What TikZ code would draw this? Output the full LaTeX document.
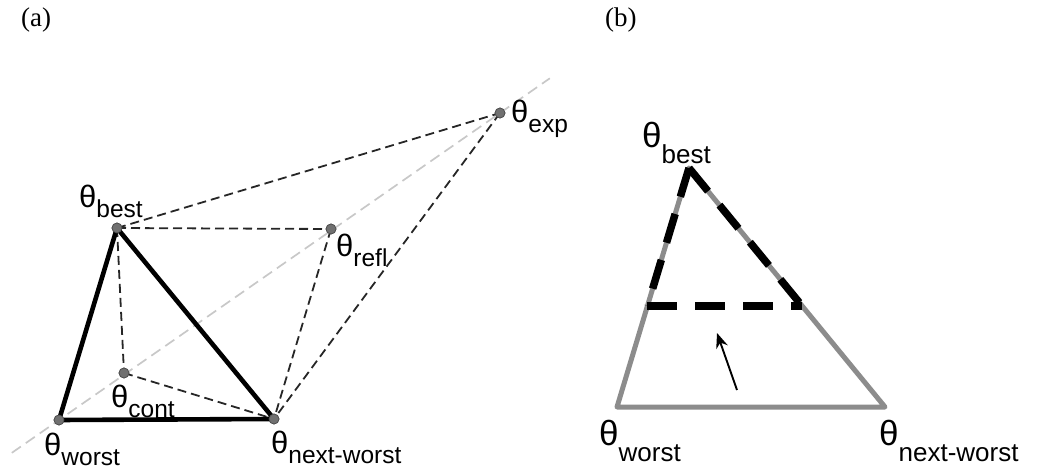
\documentclass[tikz,border=0pt]{standalone}
\usepackage{fontspec}
\setmainfont{Liberation Serif}
\newfontfamily\thetafont{Liberation Sans}
\usetikzlibrary{
  arrows.meta,
  calc,
  positioning
}
\definecolor{smDot}{HTML}{707070}
\definecolor{smGuide}{HTML}{C8C8C8}
\definecolor{smEdge}{HTML}{8C8C8C}
% theta with lowered subscript, panel (a) and panel (b) sizes
\newcommand{\thA}[1]{{\fontsize{31}{31}\selectfont θ}\raisebox{-10pt}{\fontsize{24.5}{24.5}\selectfont #1}}
\newcommand{\thB}[1]{{\fontsize{35}{35}\selectfont θ}\raisebox{-16pt}{\fontsize{26}{26}\selectfont #1}}
\tikzset{
  vtx/.style={circle, inner sep=0pt, minimum size=10pt, fill=smDot, draw=smDot!70!black, line width=0.7pt},
  thlab/.style={anchor=base west, inner sep=0pt, font=\thetafont},
  panel/.style={anchor=north west, inner sep=0pt, font=\fontsize{27}{27}\selectfont},
  simplex/.style={line width=4.6pt, black, line join=round},
  trial/.style={line width=1.8pt, black!85, dash pattern=on 9pt off 5pt},
  guide/.style={line width=1.7pt, smGuide, dash pattern=on 11pt off 6pt},
  oldedge/.style={line width=5pt, smEdge, line join=round},
  shrunk/.style={line width=7.5pt, black, dash pattern=on 30pt off 18pt},
  move/.style={-{Stealth[length=15pt, width=12pt]}, line width=1.9pt}
}
\begin{document}
\begin{tikzpicture}[x=1pt, y=-1pt]
  \useasboundingbox (0,0) rectangle (1041,470);

  % panel labels
  \node[panel] (pa) at (21,8) {(a)};
  \node[panel] (pb) at (605,8) {(b)};

  % (a) simplex and trial points
  \node[vtx] (worst) at (59,420) {};
  \node[vtx] (best) at (117,228) {};
  \node[vtx] (next) at (274,419) {};
  \node[vtx] (cont) at (124,373) {};
  \node[vtx] (refl) at (331,229) {};
  \node[vtx] (expd) at (500,113) {};
  \coordinate (gA) at ($(worst)!-0.107!(expd)$);
  \coordinate (gB) at ($(expd)!-0.113!(worst)$);

  \draw[guide] (gA) -- (gB);
  \draw[trial] (best.center) -- (expd.center);
  \draw[trial] (best.center) -- (refl.center);
  \draw[trial] (best.center) -- (cont.center);
  \draw[trial] (cont.center) -- (next.center);
  \draw[trial] (refl.center) -- (next.center);
  \draw[trial] (expd.center) -- (next.center);
  \draw[simplex] (worst.center) -- (best.center) -- (next.center) -- cycle;
  \foreach \p in {worst,best,next,cont,refl,expd}
    \node[vtx] at (\p) {};

  \node[thlab] (bestlab) at ($(best)+(-38,-20)$) {\thA{best}};
  \node[thlab] (worstlab) at ($(worst)+(-15,35)$) {\thA{worst}};
  \node[thlab] (nextlab) at ($(next)+(-3,34)$) {\thA{next-worst}};
  \node[thlab] (contlab) at ($(cont)+(-13,34)$) {\thA{cont}};
  \node[thlab] (refllab) at ($(refl)+(5,28)$) {\thA{refl}};
  \node[thlab] (expdlab) at ($(expd)+(11,10)$) {\thA{exp}};

  % (b) contraction towards best
  \coordinate (bworst) at (617,407);
  \coordinate (bbest) at (689,168);
  \coordinate (bnext) at (885,407);
  \coordinate (mL) at ($(bbest)!0.577!(bworst)$);
  \coordinate (mR) at ($(bbest)!0.577!(bnext)$);
  \coordinate (atail) at (737,390);
  \coordinate (ahead) at (717,333);

  \draw[oldedge] (bworst) -- (bbest) -- (bnext) -- cycle;
  \draw[shrunk] (bbest) -- (mL);
  \draw[shrunk] (bbest) -- (mR);
  \draw[shrunk] (mL) -- (mR);
  \draw[move] (atail) -- (ahead);

  \node[thlab] (bbestlab) at ($(bbest)+(-47,-20)$) {\thB{best}};
  \node[thlab] (bworstlab) at ($(bworst)+(-18,38)$) {\thB{worst}};
  \node[thlab] (bnextlab) at ($(bnext)+(-6,38)$) {\thB{next-worst}};
\end{tikzpicture}
\end{document}
